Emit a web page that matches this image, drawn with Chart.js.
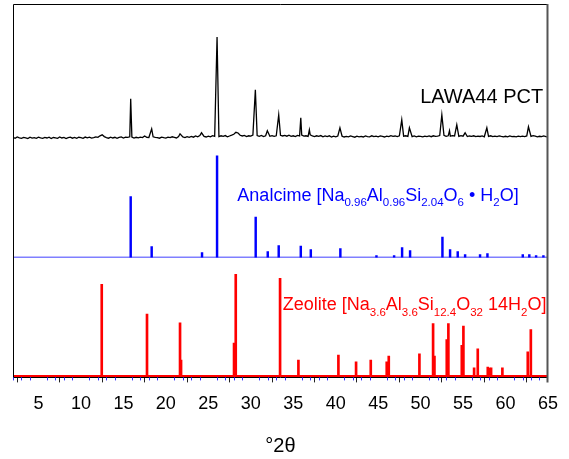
<!DOCTYPE html>
<html>
<head>
<meta charset="utf-8">
<script src="https://cdn.jsdelivr.net/npm/chart.js@4.4.0/dist/chart.umd.min.js"></script>
<style>
  body { margin: 0; background: #fff; }
</style>
</head>
<body>
<canvas id="xrdChart" width="569" height="459"></canvas>
<script>
// LAWA44 PCT scan: background read every 0.25 deg from 2 to 65
const scanStart = 2;
const scanStep = 0.25;
const scanNoise = [
  0.5, -0.5, 0.8, 0,     -0.6, 0.4, 0, -0.8,    0.6, -0.3, 0.2, -0.5,   0.7, 0, -0.6, 0.4,
  -0.2, 0.6, -0.7, 0.3,  0, -0.5, 0.8, -0.2,    0.4, -0.8, 0.1, 0.6,    -0.4, 0.3, -0.6, 0.5,
  0.1, -0.5, 0.7, -0.1,  0.6, -0.3, 0.2, 0.9,   0.4, 2.0, 3.0, 1.2,     0.2, -0.4, 0.6, -0.2,
  0.5, -0.6, 0.3, 0.8,   -0.2, 0.6, 0.4, 1.0,   0.8, -0.3, 0.5, -0.1,   0.6, 0.2, 1.8, 0.5,
  0.3, 0.9, 1.0, 0.4,    0.2, -0.4, 0.7, 0.1,   -0.3, 0.6, 0.2, 1.0,    0.4, -0.2, 1.2, 1.5,
  0.8, 0.2, 1.1, 0.5,    1.4, 0.6, 1.8, 0.9,    2.2, 1.8, 1.4, 0.8,     1.6, 0.9, 2.2, 1.5,
  2.5, 1.2, 2.0, 1.4,    2.2, 1.0, 1.8, 2.6,    3.5, 5.5, 4.8, 2.5,     1.8, 2.4, 1.2, 2.0,
  1.6, 2.8, 1.8, 2.3,    1.5, 2.4, 1.2, 2.0,    2.6, 1.5, 2.2, 1.4,     2.0, 3.5, 2.5, 1.8,
  2.4, 1.6, 2.6, 1.5,    2.0, 1.2, 2.4, 1.8,    2.6, 1.6, 2.0, 1.4,     3.0, 1.8, 1.2, 2.0,
  1.4, 2.2, 1.0, 1.8,    1.2, 2.0, 0.8, 1.6,    1.0, 1.8, 1.2, 1.6,     0.8, 1.4, 1.0, 1.8,
  1.2, 0.6, 1.6, 1.0,    1.4, 0.8, 1.8, 1.2,    0.9, 2.0, 1.2, 1.6,     1.0, 1.8, 1.3, 0.8,
  1.6, 1.1, 2.2, 1.4,    1.8, 1.2, 2.0, 2.4,    1.6, 2.0, 1.4, 1.8,     1.2, 1.8, 1.0, 1.6,
  1.4, 0.9, 1.7, 1.2,    1.8, 1.1, 2.0, 1.4,    1.6, 2.2, 1.8, 2.4,     1.5, 2.0, 1.6, 2.2,
  1.8, 2.0, 1.4, 2.2,    1.6, 2.4, 1.2, 1.8,    1.4, 2.0, 1.1, 1.7,     1.3, 1.9, 1.0, 1.6,
  1.4, 2.0, 1.2, 1.7,    1.1, 1.8, 1.3, 0.9,    1.5, 1.0, 1.8, 1.2,     1.4, 0.9, 1.6, 1.1,
  1.7, 1.2, 1.8, 2.0,    1.4, 2.2, 1.6, 1.0,    1.5, 1.1, 1.8, 1.2,     1.0
];
// sharp reflections of the sample
const pctPeakPos = [15.86, 18.33, 21.67, 24.2, 26.03, 30.54, 31.95, 33.29, 35.89, 36.9,
  40.5, 47.78, 48.68, 52.5, 53.4, 54.26, 55.24, 57.8, 62.7];
const pctPeakInt = [39, 9, 4, 5, 101, 48, 7, 23, 20, 8,
  10, 18, 10, 23, 7, 13, 5, 10, 11];

// reference sticks
const analcimePos = [15.86, 18.33, 24.26, 26.03, 30.58, 32.0, 33.29, 35.89, 37.07, 40.55,
  44.8, 46.88, 47.82, 48.76, 52.57, 53.47, 54.37, 55.24, 57.0, 57.87, 62.03, 62.8, 63.6, 64.46];
const analcimeInt = [61, 11, 5, 102, 40.6, 6, 12, 11.6, 8, 9,
  2, 2, 10, 7, 20.6, 8, 6, 3, 3, 4, 3, 3, 2, 2];

const zeolitePos = [12.45, 17.78, 21.67, 21.79, 28.03, 28.23, 33.45, 35.61, 40.32, 42.4,
  44.13, 46.01, 46.25, 49.86, 51.47, 51.63, 53.08, 53.27, 54.85, 55.04,
  56.3, 56.73, 57.91, 58.1, 58.3, 59.63, 62.62, 62.98];
const zeoliteInt = [92, 62, 53.3, 16, 33, 102, 98, 16, 21, 14.4,
  16, 14.4, 20, 22.4, 52.7, 20, 36.7, 52.7, 30.7, 50,
  8.4, 27.4, 9, 8, 8.4, 8.4, 24.4, 46.7];

const xTicks = [5, 10, 15, 20, 25, 30, 35, 40, 45, 50, 55, 60, 65];

const pctPoints = [];
scanNoise.forEach((v, i) => {
  const x = scanStart + i * scanStep;
  if (pctPeakPos.some(p => Math.abs(p - x) < 0.08)) return;
  pctPoints.push({x: x, y: v});
});
pctPeakPos.forEach((p, i) => pctPoints.push({x: p, y: pctPeakInt[i]}));
pctPoints.sort((a, b) => a.x - b.x);

const sticks = (pos, vals) => pos.map((p, i) => ({x: p, y: vals[i]}));
const baseline = [{x: 2, y: 0}, {x: 65, y: 0}];

const FONT = '"Liberation Sans", Arial, sans-serif';
Chart.defaults.font.family = FONT;

function drawFormula(ctx, parts, x, y, color, size, subSize, drop) {
  ctx.fillStyle = color;
  ctx.textAlign = 'left';
  ctx.textBaseline = 'alphabetic';
  parts.forEach(([txt, sub]) => {
    ctx.font = (sub ? subSize : size) + 'px ' + FONT;
    ctx.fillText(txt, x, sub ? y + drop : y);
    x += ctx.measureText(txt).width;
  });
}

const decorations = {
  id: 'decorations',
  afterDraw(chart) {
    const {ctx, chartArea: a, scales} = chart;
    const xs = scales.x;
    ctx.save();
    // frame
    ctx.strokeStyle = '#000';
    ctx.lineWidth = 1;
    ctx.beginPath();
    ctx.moveTo(a.left + 0.5, a.bottom);
    ctx.lineTo(a.left + 0.5, a.top + 0.5);
    ctx.lineTo(a.right, a.top + 0.5);
    ctx.stroke();
    ctx.strokeStyle = '#555';
    ctx.lineWidth = 2;
    ctx.beginPath();
    ctx.moveTo(a.right - 0.5, a.top);
    ctx.lineTo(a.right - 0.5, a.bottom + 5);
    ctx.stroke();
    // minor ticks
    ctx.strokeStyle = '#3030ff';
    ctx.lineWidth = 1;
    for (let v = 2; v < 65; v++) {
      if (v % 5 === 0) continue;
      const px = Math.round(xs.getPixelForValue(v)) + 0.5;
      ctx.beginPath();
      ctx.moveTo(px, a.bottom);
      ctx.lineTo(px, a.bottom + 3);
      ctx.stroke();
    }
    // labels
    ctx.font = '20px ' + FONT;
    ctx.fillStyle = '#000';
    ctx.textAlign = 'right';
    ctx.textBaseline = 'alphabetic';
    ctx.fillText('LAWA44 PCT', xs.getPixelForValue(64.43), scales.yPct.getPixelForValue(35));

    drawFormula(ctx, [['Analcime [Na'], ['0.96', 1], ['Al'], ['0.96', 1], ['Si'], ['2.04', 1],
      ['O'], ['6', 1], [' \u2022 H'], ['2', 1], ['O]']],
      xs.getPixelForValue(28.42), scales.yAna.getPixelForValue(57), '#0000ff', 18, 11.5, 5.5);

    drawFormula(ctx, [['Zeolite [Na'], ['3.6', 1], ['Al'], ['3.6', 1], ['Si'], ['12.4', 1],
      ['O'], ['32', 1], [' 14H'], ['2', 1], ['O]']],
      xs.getPixelForValue(33.77), scales.yZeo.getPixelForValue(66), '#ff0000', 18, 11.5, 6);
    ctx.restore();
  }
};

new Chart(document.getElementById('xrdChart'), {
  type: 'line',
  data: {
    datasets: [
      {
        label: 'LAWA44 PCT',
        data: pctPoints,
        yAxisID: 'yPct',
        borderColor: '#000',
        borderWidth: 1.3,
        pointRadius: 0,
        tension: 0
      },
      {
        type: 'bar',
        label: 'Analcime',
        data: sticks(analcimePos, analcimeInt),
        yAxisID: 'yAna',
        backgroundColor: '#0000ff',
        barThickness: 1.8,
        grouped: false
      },
      {
        label: 'Analcime base',
        data: baseline,
        yAxisID: 'yAna',
        borderColor: '#0000ff',
        borderWidth: 1.6,
        pointRadius: 0
      },
      {
        type: 'bar',
        label: 'Zeolite',
        data: sticks(zeolitePos, zeoliteInt),
        yAxisID: 'yZeo',
        backgroundColor: '#ff0000',
        barThickness: 2,
        grouped: false
      },
      {
        label: 'Zeolite base',
        data: baseline,
        yAxisID: 'yZeo',
        borderColor: '#ff0000',
        borderWidth: 2,
        pointRadius: 0
      }
    ]
  },
  options: {
    responsive: false,
    animation: false,
    layout: {
      padding: {left: 13, right: 21, top: 4, bottom: 0}
    },
    plugins: {
      legend: {display: false},
      tooltip: {enabled: false}
    },
    scales: {
      x: {
        type: 'linear',
        min: 2,
        max: 65,
        offset: false,
        afterBuildTicks: s => {
          s.ticks = xTicks.map(v => ({value: v}));
        },
        ticks: {
          color: '#000',
          padding: 11,
          maxRotation: 0,
          autoSkip: false,
          font: {size: 18}
        },
        grid: {
          drawOnChartArea: false,
          tickLength: 5,
          tickColor: '#222'
        },
        border: {color: '#000', width: 1},
        title: {
          display: true,
          text: '\u00b02\u03b8',
          color: '#000',
          font: {size: 20},
          padding: {top: 8, bottom: 1}
        }
      },
      yZeo: {
        type: 'linear',
        display: false,
        position: 'left',
        stack: 'xrd',
        stackWeight: 120,
        weight: 1,
        min: -1.3,
        max: 118.7
      },
      yAna: {
        type: 'linear',
        display: false,
        position: 'left',
        stack: 'xrd',
        stackWeight: 116,
        weight: 2,
        min: 0,
        max: 116
      },
      yPct: {
        type: 'linear',
        display: false,
        position: 'left',
        stack: 'xrd',
        stackWeight: 138,
        weight: 3,
        min: -4,
        max: 134
      }
    }
  },
  plugins: [decorations]
});
</script>
</body>
</html>
